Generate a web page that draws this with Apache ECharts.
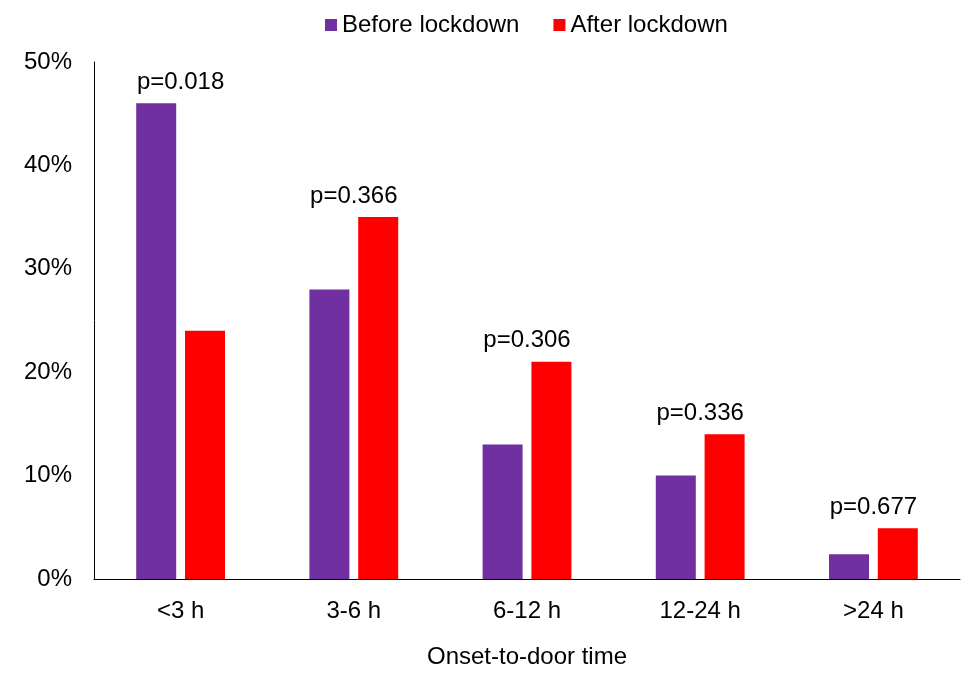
<!DOCTYPE html>
<html>
<head>
<meta charset="utf-8">
<script src="https://cdn.jsdelivr.net/npm/echarts@6/dist/echarts.min.js"></script>
<style>
  html, body { margin: 0; padding: 0; background: #fff; }
  #main { width: 978px; height: 680px; }
</style>
</head>
<body>
<div id="main"></div>
<script>
// 数据
var categories = ['<3 h', '3-6 h', '6-12 h', '12-24 h', '>24 h']
var beforeValues = [46, 28, 13, 10, 2.4]
var afterValues = [24, 35, 21, 14, 4.9]
var pLabels = ['p=0.018', 'p=0.366', 'p=0.306', 'p=0.336', 'p=0.677']
var yTicks = [0, 10, 20, 30, 40, 50]

var font = 'Liberation Sans, Arial, sans-serif'
var fs = 24

// p值放在每组较高柱子上方
var pPoints = categories.map(function(c, i) {
  return {
    value: Math.max(beforeValues[i], afterValues[i]),
    label: { formatter: pLabels[i] }
  }
})

var chart = echarts.init(document.getElementById('main'))
chart.setOption({
  animation: false,
  textStyle: { fontFamily: font, color: '#000' },
  legend: {
    top: 8,
    left: 320,
    icon: 'rect',
    itemWidth: 12,
    itemHeight: 12,
    itemGap: 34,
    data: ['Before lockdown', 'After lockdown'],
    textStyle: { fontSize: fs, color: '#000', fontFamily: font }
  },
  grid: { left: 94, right: 18, top: 62, bottom: 101 },
  xAxis: {
    type: 'category',
    data: categories,
    name: 'Onset-to-door time',
    nameLocation: 'middle',
    nameGap: 66,
    nameTextStyle: { fontSize: fs, color: '#000', fontFamily: font },
    axisLine: { lineStyle: { color: '#000', width: 1 } },
    axisTick: { show: false },
    axisLabel: { fontSize: fs, color: '#000', margin: 20, fontFamily: font }
  },
  yAxis: {
    type: 'value',
    min: yTicks[0],
    max: yTicks[yTicks.length - 1],
    interval: 10,
    axisLine: { show: true, lineStyle: { color: '#000', width: 1 } },
    axisTick: { show: false },
    splitLine: { show: false },
    axisLabel: { fontSize: fs, color: '#000', margin: 22, formatter: '{value}%', fontFamily: font }
  },
  series: [
    {
      name: 'Before lockdown',
      type: 'bar',
      data: beforeValues,
      barWidth: 40,
      barGap: '22%',
      itemStyle: { color: '#7030A0' }
    },
    {
      name: 'After lockdown',
      type: 'bar',
      data: afterValues,
      barWidth: 40,
      itemStyle: { color: '#FF0000' }
    },
    {
      type: 'scatter',
      data: pPoints,
      symbolSize: 0,
      silent: true,
      itemStyle: { opacity: 1 },
      label: {
        show: true,
        position: 'top',
        distance: 9,
        fontSize: fs,
        color: '#000',
        fontFamily: font
      }
    }
  ]
})
</script>
</body>
</html>
